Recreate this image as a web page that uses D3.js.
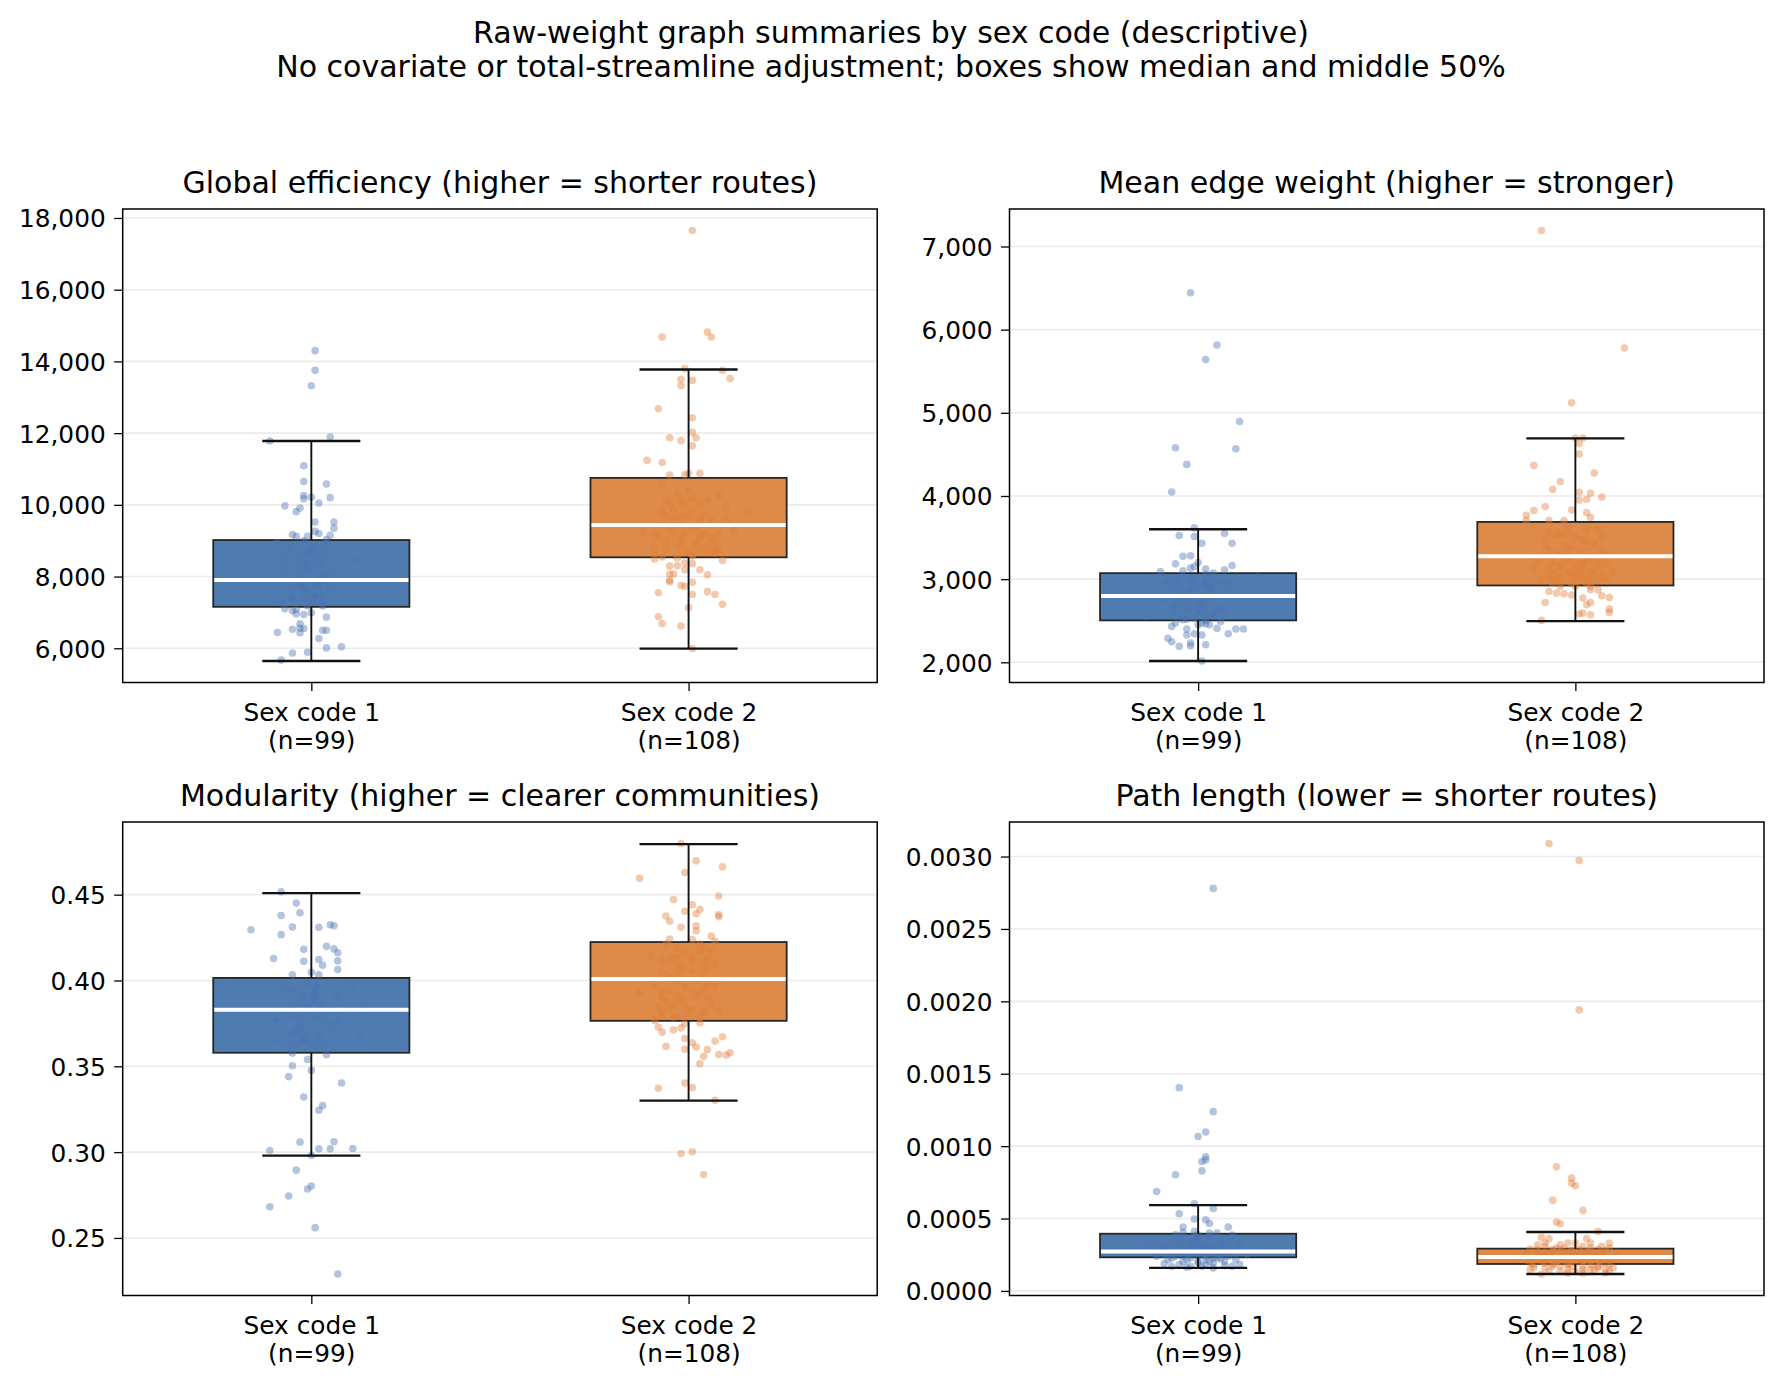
<!DOCTYPE html>
<html>
<head>
<meta charset="utf-8">
<title>Raw-weight graph summaries</title>
<script src="https://d3js.org/d3.v7.min.js"></script>
<style>
  body { margin: 0; background: #fff; }
  svg { display: block; font-family: "DejaVu Sans", sans-serif; }
  .grid line { stroke: #ebebeb; stroke-width: 1.6; }
  .axis path, .axis line { stroke: #000; stroke-width: 1.3; }
  .axis text { font-family: "DejaVu Sans", sans-serif; font-size: 24.8px; fill: #000; }
  .title { font-size: 30px; fill: #000; text-anchor: middle; }
</style>
</head>
<body>
<script>
// ---- data ----
const groups = ["Sex code 1", "Sex code 2"];
const groupN = [99, 108];
const panelTitles = [
  "Global efficiency (higher = shorter routes)",
  "Mean edge weight (higher = stronger)",
  "Modularity (higher = clearer communities)",
  "Path length (lower = shorter routes)"
];
const supTitle = ["Raw-weight graph summaries by sex code (descriptive)",
  "No covariate or total-streamline adjustment; boxes show median and middle 50%"];

// y tick values per panel
const effTicks = [6000, 8000, 10000, 12000, 14000, 16000, 18000];
const weightTicks = [2000, 3000, 4000, 5000, 6000, 7000];
const modTicks = [0.25, 0.30, 0.35, 0.40, 0.45];
const pathTicks = [0, 0.0005, 0.001, 0.0015, 0.002, 0.0025, 0.003];

// box summaries: [low whisker, q1, median, q3, high whisker]
const effBox = [[5646, 7156, 7907, 9019, 11781], [5989, 8537, 9436, 10752, 13774]];
const weightBox = [[2016, 2504, 2796, 3072, 3600], [2496, 2924, 3276, 3688, 4692]];
const modBox = [[0.2980, 0.3579, 0.3829, 0.4015, 0.4509], [0.3300, 0.3765, 0.4009, 0.4224, 0.4794]];
const pathBox = [[0.000159, 0.000232, 0.000273, 0.000395, 0.000593], [0.000117, 0.000186, 0.000234, 0.000292, 0.000407]];

// subject points: [value, horizontal jitter in category units]
const effPts1 = [[14300,0.01],[13750,0.01],[13320,0.00],[11780,-0.11],[11890,0.05],[11090,-0.02],[10650,-0.02],[10580,0.04],[10260,-0.02],[10170,-0.02],[10210,0.00],[10200,0.05],[10050,0.02],[9970,-0.07],[9910,-0.03],[9810,-0.04],[9520,0.01],[9520,0.06],[9350,0.06],[9260,0.01],[9200,0.02],[9170,-0.05],[9120,-0.04],[9150,0.05],[9030,0.04],[8940,-0.09],[8920,0.04],[8720,0.00],[8700,0.03],[8580,-0.07],[8540,0.01],[8450,-0.02],[8450,0.03],[8450,0.12],[8360,-0.01],[8240,-0.02],[8270,0.00],[8180,-0.01],[8040,0.03],[7890,0.02],[7820,-0.03],[7800,0.01],[7750,0.02],[7640,-0.06],[7640,-0.02],[7690,0.05],[7530,0.06],[7410,-0.05],[7370,-0.05],[7410,-0.02],[7450,0.01],[7430,0.03],[7270,-0.08],[7180,-0.01],[7100,-0.07],[7050,-0.05],[6960,-0.04],[6940,-0.02],[6870,0.04],[6680,-0.03],[6530,-0.05],[6550,-0.02],[6500,0.03],[6500,0.04],[6440,-0.09],[6430,-0.03],[6270,0.02],[5870,-0.05],[5890,-0.01],[6010,0.04],[6040,0.08],[5670,-0.08],[6560,-0.03],[7080,-0.04],[7550,-0.01],[7550,-0.09],[8840,0.01],[8010,-0.03],[8750,-0.05],[8100,0.05],[8290,0.02],[8100,-0.07],[7270,0.00],[7730,-0.03],[7180,0.03],[8840,-0.06],[7920,0.04],[8660,-0.01],[8290,-0.04],[7500,0.01],[8380,-0.07],[7820,0.07],[9000,-0.02],[7270,0.03],[8570,-0.03],[8660,0.05],[7820,-0.05],[6990,0.00],[9120,-0.01]];
const effPts2 = [[17650,0.01],[14680,-0.07],[14820,0.05],[14680,0.06],[13800,-0.01],[13750,0.09],[13500,-0.02],[13470,0.01],[13520,0.11],[13330,-0.02],[12680,-0.08],[12430,0.01],[12020,0.01],[11870,-0.05],[11870,0.02],[11790,-0.02],[11650,0.01],[11240,-0.11],[11180,-0.07],[10830,-0.05],[10840,-0.01],[10880,0.00],[10880,0.03],[10600,-0.07],[10260,0.08],[10170,0.01],[10110,-0.06],[10030,-0.05],[10070,-0.02],[10020,-0.01],[10020,0.03],[9930,0.10],[9860,-0.04],[9770,0.16],[9720,0.04],[9700,-0.06],[9680,0.00],[9490,-0.07],[9450,-0.02],[9350,0.01],[9280,0.12],[9240,-0.12],[9190,0.04],[9190,0.08],[9230,-0.04],[9120,0.03],[9000,-0.06],[8940,-0.02],[8930,0.07],[8830,-0.09],[8750,0.07],[8780,-0.06],[8700,-0.01],[8700,0.05],[8750,0.08],[8610,0.01],[8490,-0.09],[8550,-0.07],[8520,-0.03],[8570,0.01],[8450,0.09],[8380,-0.01],[8360,0.01],[8300,-0.03],[8070,-0.05],[8070,-0.04],[8050,0.05],[7900,-0.05],[7850,-0.05],[7840,0.01],[7750,-0.02],[7730,-0.01],[7500,0.01],[7550,-0.08],[7580,0.05],[7500,0.07],[7230,0.09],[7130,0.00],[6880,-0.08],[6690,-0.07],[6620,-0.02],[5990,0.01],[9210,-0.01],[9590,-0.04],[9590,0.03],[9120,-0.08],[9080,0.06],[9860,0.01],[8840,-0.03],[8800,0.03],[9680,-0.02],[9590,0.06],[9350,-0.05],[8890,0.02],[9820,-0.07],[10140,0.05],[10420,0.00],[10330,-0.03],[8660,0.07],[8660,-0.09],[8190,-0.01],[8190,0.03],[8290,-0.05],[9590,0.10],[9210,-0.09],[8840,0.05],[9030,-0.02],[9400,0.02]];

const weightPts1 = [[6444,-0.02],[5816,0.05],[5640,0.02],[4896,0.11],[4580,-0.06],[4568,0.10],[4380,-0.03],[4048,-0.07],[3616,-0.01],[3524,-0.05],[3512,-0.01],[3548,0.07],[3432,0.01],[3432,0.09],[3276,-0.04],[3280,-0.02],[3184,-0.06],[3200,0.00],[3100,-0.04],[3120,0.02],[3112,0.07],[3164,0.09],[3092,-0.10],[3024,0.16],[3000,-0.06],[3012,-0.01],[2960,0.02],[2952,-0.09],[2912,0.04],[2892,-0.02],[2912,-0.07],[2744,0.09],[2692,-0.06],[2704,0.01],[2612,0.05],[2552,-0.14],[2520,-0.03],[2504,0.02],[2432,-0.07],[2400,-0.03],[2464,0.02],[2408,0.05],[2344,0.08],[2400,0.10],[2400,0.12],[2288,-0.08],[2248,-0.07],[2328,-0.03],[2344,-0.01],[2328,0.01],[2232,-0.02],[2200,-0.02],[2212,0.02],[2192,-0.05],[2016,0.01],[2992,-0.08],[2752,0.00],[2832,0.03],[2792,-0.05],[2952,0.06],[2632,-0.03],[2912,0.00],[2552,0.04],[2592,-0.06],[2692,0.02],[2852,-0.02],[2832,0.08],[2752,-0.09],[2512,-0.04],[3052,0.02],[2572,0.00],[2652,0.06],[2992,-0.02],[2452,0.03],[2812,-0.06],[2792,0.01],[3152,-0.01],[2752,0.04],[2712,-0.04],[2492,0.06],[2972,-0.05],[2952,0.02],[2452,0.00],[3072,0.04],[2672,-0.02],[2592,0.07],[2652,-0.07],[2592,0.02],[2772,-0.03],[2892,0.03],[2532,-0.01],[2872,-0.04],[2812,0.05],[2632,0.00],[3132,-0.02],[2952,0.08],[2472,-0.06],[2472,0.01],[2992,0.04]];
const weightPts2 = [[7192,-0.09],[5780,0.13],[5120,-0.01],[4696,0.00],[4696,0.02],[4632,0.01],[4504,0.01],[4368,-0.11],[4276,0.05],[4172,-0.04],[4080,-0.06],[4044,0.01],[4032,0.04],[3988,0.07],[3960,0.03],[3952,0.01],[3872,-0.08],[3824,-0.11],[3768,-0.13],[3832,-0.01],[3800,0.03],[3704,-0.07],[3704,-0.03],[3744,0.04],[3704,-0.13],[3592,0.06],[3572,-0.07],[3540,-0.04],[3512,0.00],[3452,0.03],[3412,-0.03],[3352,-0.07],[3352,0.07],[3332,0.03],[3292,-0.02],[3132,-0.11],[3132,-0.07],[3152,-0.04],[3152,0.02],[3080,0.10],[3032,0.07],[2992,-0.09],[3000,0.08],[2992,0.04],[2952,-0.01],[2912,0.04],[2852,-0.07],[2832,-0.05],[2824,-0.03],[2808,-0.01],[2872,0.04],[2800,0.07],[2780,0.09],[2772,0.02],[2720,-0.08],[2692,0.03],[2720,0.04],[2640,0.09],[2600,0.09],[2580,0.01],[2572,0.04],[2592,0.02],[2504,-0.09],[3072,-0.06],[3232,-0.02],[3192,0.02],[3252,0.06],[3312,-0.04],[3432,0.05],[3032,0.00],[2992,-0.05],[3272,-0.08],[3392,-0.01],[3092,0.04],[3192,0.08],[3472,-0.08],[3092,-0.02],[3352,0.01],[3032,-0.04],[2992,0.06],[3252,0.02],[3272,-0.03],[3192,-0.06],[3072,0.05],[3172,0.00],[3532,-0.05],[3592,0.03],[3632,-0.02],[3212,-0.10],[3312,0.08],[2912,0.00],[2912,-0.04],[3152,0.06],[2952,-0.06],[3032,0.02],[3372,-0.02],[3232,0.04],[3392,-0.08],[3092,0.01],[3172,-0.04],[3512,0.07],[3072,-0.01],[2952,0.03],[3032,-0.07],[2872,0.06],[3552,-0.02],[3472,0.02],[3000,0.01]];

const modPts1 = [[0.4517,-0.08],[0.4451,-0.04],[0.4395,-0.03],[0.4379,-0.08],[0.4296,-0.16],[0.4312,-0.05],[0.4310,0.02],[0.4325,0.05],[0.4319,0.06],[0.4267,-0.08],[0.4182,-0.02],[0.4199,0.04],[0.4184,0.06],[0.4162,0.07],[0.4128,-0.10],[0.4112,-0.02],[0.4122,0.02],[0.4114,0.07],[0.4089,0.03],[0.4064,0.07],[0.4033,-0.05],[0.4048,0.00],[0.4033,0.02],[0.3980,-0.08],[0.3980,-0.01],[0.3980,0.02],[0.3990,0.05],[0.3945,0.11],[0.3936,0.06],[0.3909,-0.03],[0.3922,0.01],[0.3868,-0.04],[0.3868,-0.02],[0.3893,0.01],[0.3829,0.14],[0.3819,0.06],[0.3802,-0.02],[0.3777,-0.09],[0.3763,-0.10],[0.3686,-0.05],[0.3693,-0.02],[0.3670,0.02],[0.3709,0.06],[0.3666,0.13],[0.3645,0.09],[0.3647,-0.09],[0.3626,-0.06],[0.3632,-0.04],[0.3641,-0.02],[0.3622,0.02],[0.3577,-0.05],[0.3567,0.04],[0.3540,-0.01],[0.3503,-0.05],[0.3476,0.00],[0.3440,-0.06],[0.3403,0.08],[0.3321,-0.02],[0.3271,0.03],[0.3244,0.02],[0.3058,-0.03],[0.3060,0.06],[0.3019,0.02],[0.3019,0.05],[0.3021,0.11],[0.3009,-0.11],[0.2980,0.00],[0.2895,-0.04],[0.2802,0.00],[0.2785,-0.01],[0.2744,-0.06],[0.2682,-0.11],[0.2560,0.01],[0.2290,0.07],[0.3941,-0.07],[0.3864,0.03],[0.3748,-0.03],[0.3786,0.01],[0.3825,-0.06],[0.3748,0.05],[0.3903,-0.02],[0.3709,0.02],[0.3941,-0.05],[0.3632,0.00],[0.3903,0.07],[0.3786,-0.03],[0.3786,0.03],[0.3709,-0.08],[0.3941,0.01],[0.3709,-0.04],[0.3767,0.07],[0.3845,-0.01],[0.3632,0.04],[0.3786,-0.05],[0.3961,0.01],[0.3651,-0.02],[0.3825,0.03],[0.3880,0.00],[0.3720,-0.03]];
const modPts2 = [[0.4798,-0.02],[0.4697,0.02],[0.4662,0.09],[0.4629,-0.01],[0.4595,-0.13],[0.4492,0.08],[0.4472,-0.04],[0.4441,0.01],[0.4414,0.03],[0.4403,-0.01],[0.4389,0.02],[0.4376,-0.06],[0.4383,0.08],[0.4372,0.08],[0.4345,-0.05],[0.4310,-0.02],[0.4319,0.02],[0.4290,0.02],[0.4259,0.06],[0.4242,-0.05],[0.4238,0.01],[0.4228,0.07],[0.4190,-0.03],[0.4190,0.04],[0.4141,-0.10],[0.4135,-0.04],[0.4141,0.01],[0.4128,0.05],[0.4097,-0.03],[0.4100,0.04],[0.4048,-0.07],[0.4048,-0.03],[0.4042,0.04],[0.3965,0.07],[0.3947,-0.05],[0.3928,-0.13],[0.3936,-0.07],[0.3922,0.03],[0.3913,-0.03],[0.3845,-0.08],[0.3841,-0.05],[0.3841,-0.01],[0.3829,0.01],[0.3825,0.04],[0.3790,-0.07],[0.3790,-0.03],[0.3767,-0.09],[0.3754,0.03],[0.3728,-0.08],[0.3724,-0.02],[0.3699,-0.07],[0.3713,-0.04],[0.3672,0.09],[0.3662,-0.01],[0.3647,0.07],[0.3637,0.01],[0.3616,-0.06],[0.3600,-0.01],[0.3612,0.02],[0.3597,0.05],[0.3558,0.04],[0.3569,0.08],[0.3566,0.10],[0.3579,0.11],[0.3515,0.03],[0.3403,-0.01],[0.3376,0.01],[0.3372,-0.08],[0.3302,0.07],[0.2992,-0.02],[0.3002,0.01],[0.2870,0.04],[0.4213,-0.06],[0.4174,-0.01],[0.4174,0.03],[0.4077,-0.02],[0.4116,-0.07],[0.4174,0.06],[0.4058,0.01],[0.4019,-0.05],[0.3980,0.05],[0.3961,-0.01],[0.3903,0.02],[0.3884,-0.06],[0.3864,0.06],[0.3884,-0.02],[0.3786,0.03],[0.3864,-0.04],[0.3941,0.01],[0.3980,-0.09],[0.4077,0.05],[0.4135,-0.03],[0.3999,0.02],[0.3825,-0.07],[0.3806,0.00],[0.3825,0.08],[0.4213,0.03],[0.3786,-0.04],[0.3903,0.05],[0.3748,-0.01],[0.4116,-0.05],[0.4097,0.07],[0.3999,-0.03],[0.4116,0.01],[0.3903,-0.07],[0.3806,0.04],[0.4000,-0.02],[0.3950,0.04]];

const pathPts1 = [[0.002780,0.04],[0.001404,-0.05],[0.001238,0.04],[0.001098,0.02],[0.001066,0.00],[0.000926,0.02],[0.000905,0.02],[0.000894,0.01],[0.000829,0.01],[0.000802,-0.06],[0.000687,-0.11],[0.000602,-0.01],[0.000570,0.04],[0.000533,-0.05],[0.000496,-0.01],[0.000492,0.02],[0.000466,0.03],[0.000441,-0.04],[0.000441,0.08],[0.000386,0.09],[0.000404,-0.04],[0.000411,-0.01],[0.000354,-0.07],[0.000331,-0.14],[0.000308,-0.12],[0.000342,-0.02],[0.000354,0.03],[0.000319,0.06],[0.000331,0.08],[0.000251,-0.09],[0.000239,-0.06],[0.000244,-0.04],[0.000228,-0.02],[0.000239,0.02],[0.000228,0.04],[0.000221,0.06],[0.000251,0.13],[0.000189,-0.09],[0.000182,-0.05],[0.000163,-0.03],[0.000193,0.00],[0.000182,0.02],[0.000159,0.04],[0.000175,0.07],[0.000182,0.11],[0.000204,0.03],[0.000308,-0.08],[0.000331,-0.04],[0.000308,0.00],[0.000285,0.04],[0.000285,-0.06],[0.000296,-0.02],[0.000319,0.02],[0.000354,0.06],[0.000285,0.10],[0.000331,-0.10],[0.000354,0.00],[0.000366,-0.05],[0.000377,0.03],[0.000262,-0.02],[0.000251,0.06],[0.000273,-0.12],[0.000273,0.01],[0.000388,-0.06],[0.000400,0.05],[0.000216,-0.03],[0.000239,0.08],[0.000239,0.00],[0.000251,0.02],[0.000216,-0.08],[0.000204,0.07],[0.000308,-0.04],[0.000331,-0.01],[0.000308,0.04],[0.000331,0.11],[0.000239,-0.11],[0.000204,-0.04],[0.000204,0.00],[0.000193,0.04],[0.000170,-0.07],[0.000170,0.09],[0.000170,-0.02],[0.000296,0.02],[0.000331,-0.06],[0.000285,0.06],[0.000377,-0.01],[0.000400,0.03],[0.000273,-0.03],[0.000296,0.07],[0.000285,-0.09],[0.000388,0.00],[0.000216,0.02],[0.000262,-0.05],[0.000216,0.10],[0.000319,-0.02],[0.000228,0.05],[0.000228,-0.07],[0.000170,0.01],[0.000300,0.01]];
const pathPts2 = [[0.003090,-0.07],[0.002972,0.01],[0.001941,0.01],[0.000857,-0.05],[0.000779,-0.01],[0.000744,-0.01],[0.000726,0.00],[0.000627,-0.06],[0.000556,0.02],[0.000476,-0.05],[0.000464,-0.04],[0.000411,0.06],[0.000370,-0.09],[0.000361,-0.07],[0.000361,0.03],[0.000331,0.04],[0.000331,0.09],[0.000331,-0.08],[0.000319,-0.10],[0.000290,-0.12],[0.000296,-0.05],[0.000308,0.02],[0.000159,-0.11],[0.000170,-0.06],[0.000147,-0.02],[0.000124,0.02],[0.000147,0.05],[0.000152,0.08],[0.000136,0.09],[0.000117,-0.09],[0.000136,0.00],[0.000262,-0.08],[0.000239,-0.04],[0.000262,0.03],[0.000239,0.07],[0.000273,-0.01],[0.000228,-0.10],[0.000285,0.06],[0.000204,-0.05],[0.000204,0.02],[0.000216,0.09],[0.000193,-0.08],[0.000193,-0.02],[0.000182,0.04],[0.000251,-0.13],[0.000262,0.11],[0.000273,-0.06],[0.000251,0.01],[0.000228,0.05],[0.000285,-0.10],[0.000296,-0.03],[0.000193,0.07],[0.000216,-0.07],[0.000228,0.00],[0.000273,0.04],[0.000193,-0.12],[0.000170,-0.04],[0.000170,0.02],[0.000273,0.08],[0.000262,-0.02],[0.000159,-0.08],[0.000159,0.06],[0.000170,-0.01],[0.000262,-0.10],[0.000182,0.09],[0.000239,-0.06],[0.000285,0.01],[0.000204,0.06],[0.000204,-0.09],[0.000216,-0.03],[0.000228,0.03],[0.000308,0.07],[0.000319,-0.04],[0.000147,0.04],[0.000124,-0.02],[0.000136,-0.07],[0.000124,0.08],[0.000216,-0.13],[0.000193,0.00],[0.000251,0.05],[0.000285,-0.06],[0.000228,0.11],[0.000239,0.02],[0.000273,-0.04],[0.000239,-0.08],[0.000251,-0.01],[0.000170,0.06],[0.000182,-0.11],[0.000136,-0.04],[0.000147,0.02],[0.000251,0.07],[0.000331,-0.02],[0.000296,0.04],[0.000308,-0.08],[0.000296,0.09],[0.000331,0.00],[0.000182,-0.06],[0.000204,0.04],[0.000182,-0.02],[0.000147,-0.12],[0.000159,0.10],[0.000250,0.01],[0.000220,-0.03],[0.000270,0.03],[0.000200,-0.05],[0.000240,0.05],[0.000210,0.02],[0.000280,-0.01]];

// colours
const boxColors = ["#4f7cb0", "#de8a48"];
const pointColors = ["#4c72b0", "#e07f3c"];

// ---- layout ----
const W = 1782, H = 1383;
const panelW = 754.5, panelH = 473.5;
const panelX = [122.7, 1009.5], panelY = [209, 822];

const panels = [
  { title: panelTitles[0], ticks: effTicks, fmt: d3.format(","), box: effBox, pts: [effPts1, effPts2] },
  { title: panelTitles[1], ticks: weightTicks, fmt: d3.format(","), box: weightBox, pts: [weightPts1, weightPts2] },
  { title: panelTitles[2], ticks: modTicks, fmt: d3.format(".2f"), box: modBox, pts: [modPts1, modPts2] },
  { title: panelTitles[3], ticks: pathTicks, fmt: d3.format(".4f"), box: pathBox, pts: [pathPts1, pathPts2] }
];

const svg = d3.select("body").append("svg")
  .attr("width", W).attr("height", H)
  .style("background", "#fff");

// suptitle (two lines)
svg.selectAll("text.sup").data(supTitle).join("text")
  .attr("class", "title sup")
  .attr("x", W / 2)
  .attr("y", (d, i) => 43 + i * 33.5)
  .text(d => d);

panels.forEach((p, k) => {
  const ox = panelX[k % 2], oy = panelY[Math.floor(k / 2)];
  const g = svg.append("g").attr("transform", `translate(${ox},${oy})`);

  // matplotlib-like autoscale: data extent plus 5% margin
  const all = [];
  p.pts.forEach(arr => arr.forEach(d => all.push(d[0])));
  p.box.forEach(b => all.push(b[0], b[4]));
  const [lo, hi] = d3.extent(all);
  const pad = (hi - lo) * 0.05;

  const x = d3.scaleLinear().domain([0.5, 2.5]).range([0, panelW]);
  const y = d3.scaleLinear().domain([lo - pad, hi + pad]).range([panelH, 0]);

  // horizontal grid
  g.append("g").attr("class", "grid")
    .selectAll("line").data(p.ticks).join("line")
    .attr("x1", 0).attr("x2", panelW)
    .attr("y1", d => y(d)).attr("y2", d => y(d));

  const halfBox = 0.26, halfCap = 0.13;

  p.box.forEach((b, i) => {
    const c = i + 1;
    // box body
    g.append("rect")
      .attr("x", x(c - halfBox)).attr("width", x(c + halfBox) - x(c - halfBox))
      .attr("y", y(b[3])).attr("height", y(b[1]) - y(b[3]))
      .attr("fill", boxColors[i])
      .attr("stroke", "#262626").attr("stroke-width", 1.8);
  });

  // jittered points
  p.pts.forEach((arr, i) => {
    g.append("g").selectAll("circle").data(arr).join("circle")
      .attr("cx", d => x(i + 1 + d[1]))
      .attr("cy", d => y(d[0]))
      .attr("r", 3.8)
      .attr("fill", pointColors[i])
      .attr("fill-opacity", 0.42);
  });

  p.box.forEach((b, i) => {
    const c = i + 1;
    const wg = g.append("g").attr("stroke", "#111").attr("stroke-width", 1.9);
    // whiskers
    wg.append("line").attr("x1", x(c)).attr("x2", x(c)).attr("y1", y(b[3])).attr("y2", y(b[4]));
    wg.append("line").attr("x1", x(c)).attr("x2", x(c)).attr("y1", y(b[1])).attr("y2", y(b[0]));
    // caps
    [b[0], b[4]].forEach(v => {
      wg.append("line")
        .attr("x1", x(c - halfCap)).attr("x2", x(c + halfCap))
        .attr("y1", y(v)).attr("y2", y(v))
        .attr("stroke-width", 2.3);
    });
    // median
    g.append("line")
      .attr("x1", x(c - halfBox) + 1).attr("x2", x(c + halfBox) - 1)
      .attr("y1", y(b[2])).attr("y2", y(b[2]))
      .attr("stroke", "#fff").attr("stroke-width", 4);
  });

  // y axis
  const yAxis = g.append("g").attr("class", "axis")
    .call(d3.axisLeft(y).tickValues(p.ticks).tickFormat(p.fmt).tickSize(8.5).tickPadding(8.5));
  yAxis.attr("font-family", null).attr("font-size", null);
  yAxis.select(".domain").remove();
  yAxis.selectAll("text").attr("dy", "0.36em");

  // x axis with two-line labels
  const xAxis = g.append("g").attr("class", "axis")
    .attr("transform", `translate(0,${panelH})`)
    .call(d3.axisBottom(x).tickValues([1, 2]).tickSize(8.5).tickPadding(8.5).tickFormat(""));
  xAxis.attr("font-family", null).attr("font-size", null);
  xAxis.select(".domain").remove();
  xAxis.selectAll(".tick").each(function (d, i) {
    const t = d3.select(this).append("text")
      .attr("text-anchor", "middle")
      .attr("y", 38);
    t.append("tspan").attr("x", 0).text(groups[i]);
    t.append("tspan").attr("x", 0).attr("dy", 28.5).text(`(n=${groupN[i]})`);
  });

  // frame
  g.append("rect")
    .attr("width", panelW).attr("height", panelH)
    .attr("fill", "none").attr("stroke", "#000").attr("stroke-width", 1.5);

  // panel title
  g.append("text").attr("class", "title")
    .attr("x", panelW / 2).attr("y", -16)
    .text(p.title);
});
</script>
</body>
</html>
